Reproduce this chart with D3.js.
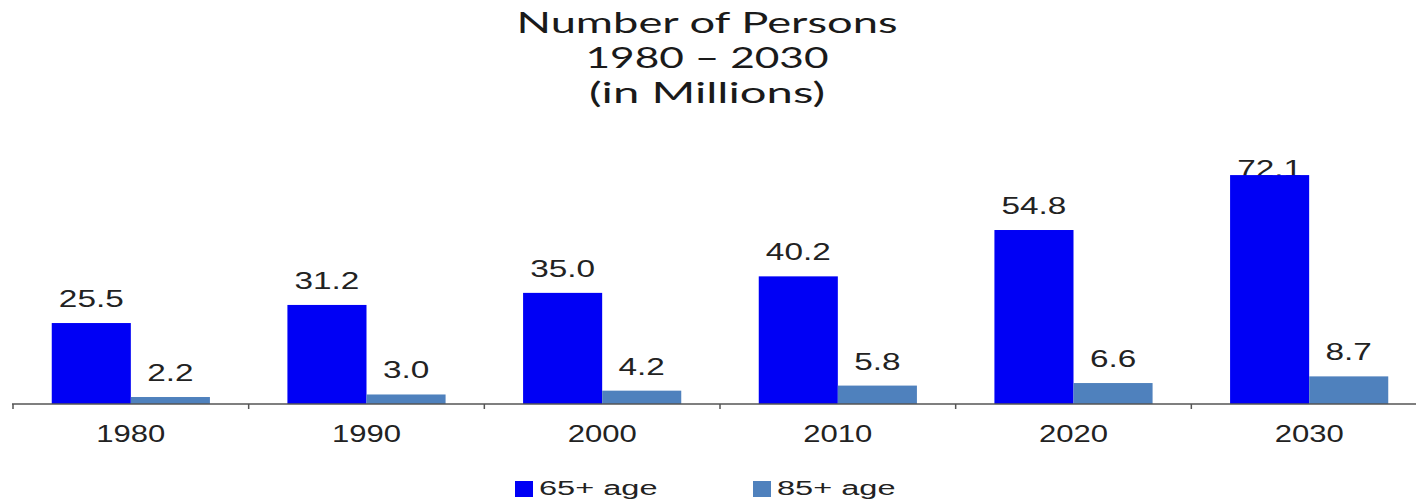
<!DOCTYPE html>
<html>
<head>
<meta charset="utf-8">
<script src="https://cdn.jsdelivr.net/npm/d3@7"></script>
<style>
  body { margin: 0; background: #fff; }
  text { font-family: Arial, 'Liberation Sans', sans-serif; fill: #222; }
  .title { font-family: Lato, 'Open Sans', sans-serif; fill: #1a1a1a; }
</style>
</head>
<body>
<div id='chart'></div>

<script>
  var years = ['1980', '1990', '2000', '2010', '2020', '2030']
  var series = ['65+ age', '85+ age']
  var age65 = [25.5, 31.2, 35.0, 40.2, 54.8, 72.1]
  var age85 = [2.2, 3.0, 4.2, 5.8, 6.6, 8.7]
  var colours = ['#0000f5', '#4f81bd']
  var titleLines = ['Number of Persons', '1980 \u2013 2030', '(in Millions)']

  var rows = years.map(function(y, i) {
    return { year: y, values: [age65[i], age85[i]] }
  })

  var width = 1416, height = 500

  var svg = d3.select('#chart')
              .append('svg')
              .attr('width', width)
              .attr('height', height)

  var x0 = d3.scaleBand()
             .domain(years)
             .range([13, 1427])

  var x1 = d3.scaleBand()
             .domain(series)
             .range([0, x0.bandwidth()])
             .paddingOuter(0.49)

  var y = d3.scaleLinear()
            .domain([0, 80])
            .range([404, 150])

  // title, squeezed to the widths in the picture
  var titleWidths = [381, 243, 236]
  var titleBase = [33, 68, 103]
  svg.selectAll('.title')
     .data(titleLines)
     .enter()
     .append('text')
     .classed('title', true)
     .attr('x', 707)
     .attr('y', function(d, i) { return titleBase[i] })
     .attr('text-anchor', 'middle')
     .attr('font-size', 28)
     .attr('textLength', function(d, i) { return titleWidths[i] })
     .attr('lengthAdjust', 'spacingAndGlyphs')
     .text(function(d) { return d })

  // helper: text stretched horizontally like the original
  function wideText(sel, x, yPos, str, size, sx, anchor) {
    var g = sel.append('g')
               .attr('transform', 'translate(' + x + ',' + yPos + ') scale(' + sx + ',1)')
    g.append('text')
     .attr('font-size', size)
     .attr('text-anchor', anchor || 'middle')
     .text(str)
    return g
  }

  var groups = svg.selectAll('.year')
                  .data(rows)
                  .enter()
                  .append('g')
                  .attr('class', 'year')
                  .attr('transform', function(d) { return 'translate(' + x0(d.year) + ',0)' })

  // value labels first so the tall bar can sit over its label
  groups.each(function(d) {
    var g = d3.select(this)
    d.values.forEach(function(v, i) {
      var ly = Math.max(y(v) - 16, 177)
      wideText(g, x1(series[i]) + x1.bandwidth() / 2, ly, v.toFixed(1), 23, 1.45)
    })
  })

  groups.selectAll('rect')
        .data(function(d) { return d.values })
        .enter()
        .append('rect')
        .attr('x', function(d, i) { return x1(series[i]) })
        .attr('y', function(d) { return y(d) })
        .attr('width', x1.bandwidth())
        .attr('height', function(d) { return y(0) - y(d) })
        .attr('fill', function(d, i) { return colours[i] })

  // category axis
  svg.append('line')
     .attr('x1', 12).attr('x2', width)
     .attr('y1', y(0)).attr('y2', y(0))
     .attr('stroke', '#555')
     .attr('stroke-width', 1.5)

  svg.selectAll('.tick')
     .data(years)
     .enter()
     .append('line')
     .attr('class', 'tick')
     .attr('x1', function(d) { return x0(d) })
     .attr('x2', function(d) { return x0(d) })
     .attr('y1', y(0))
     .attr('y2', y(0) + 5)
     .attr('stroke', '#555')
     .attr('stroke-width', 1.5)

  years.forEach(function(yr) {
    wideText(svg, x0(yr) + x0.bandwidth() / 2, 442, yr, 23, 1.35)
  })

  // legend
  var legendX = [515, 753]
  series.forEach(function(s, i) {
    svg.append('rect')
       .attr('x', legendX[i])
       .attr('y', 481)
       .attr('width', 18)
       .attr('height', 16)
       .attr('fill', colours[i])
    wideText(svg, legendX[i] + 24, 495, s, 21, 1.55, 'start')
  })
</script>
</body>
</html>
